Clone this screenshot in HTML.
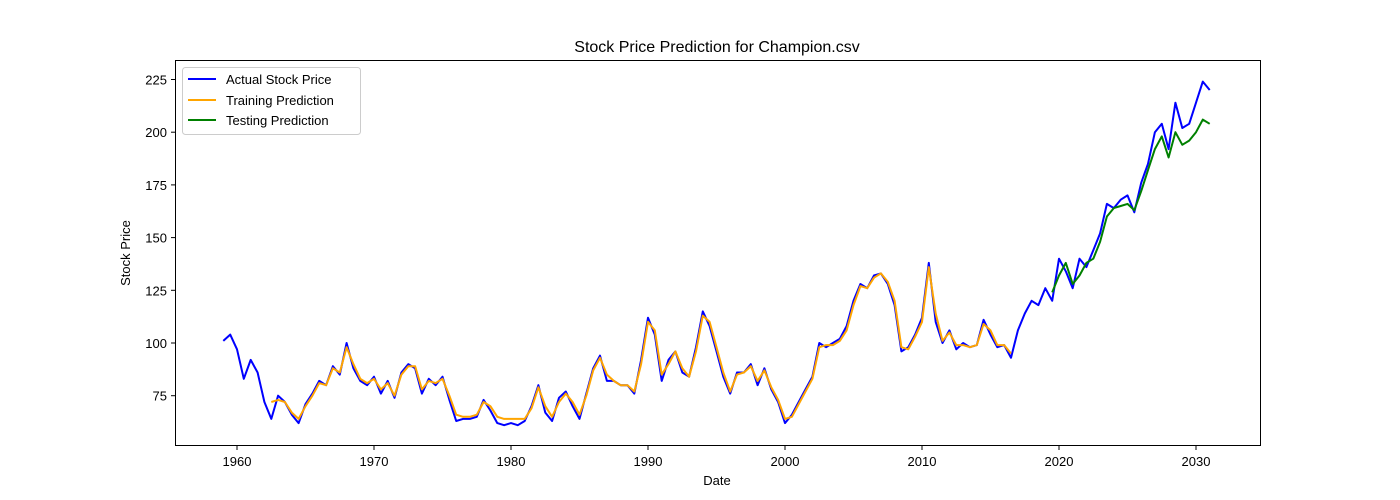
<!DOCTYPE html>
<html><head><meta charset="utf-8"><style>
body{margin:0;background:#fff;}
svg{display:block;font-family:"Liberation Sans","DejaVu Sans",sans-serif;}
</style></head><body>
<svg id="chart" width="1400" height="500">
<rect x="0" y="0" width="1400" height="500" fill="#fff"/>
<text x="717" y="52" font-size="16" text-anchor="middle">Stock Price Prediction for Champion.csv</text>
<text x="717" y="485" font-size="13" text-anchor="middle">Date</text>
<text x="130" y="253" font-size="13" text-anchor="middle" transform="rotate(-90 130 253)">Stock Price</text>
<g id="ticks"></g>
<g id="series"></g>
<rect x="175.5" y="60.5" width="1085" height="385" fill="none" stroke="#000" stroke-width="1"/>
<g>
<rect x="182.5" y="67.5" width="178" height="67" rx="3" fill="#fff" stroke="#ccc"/>
<line x1="188" y1="79" x2="216" y2="79" stroke="#0000ff" stroke-width="2"/>
<text x="226" y="84" font-size="13">Actual Stock Price</text>
<line x1="188" y1="100" x2="216" y2="100" stroke="#ffa500" stroke-width="2"/>
<text x="226" y="105" font-size="13">Training Prediction</text>
<line x1="188" y1="120" x2="216" y2="120" stroke="#008000" stroke-width="2"/>
<text x="226" y="125" font-size="13">Testing Prediction</text>
</g>
</svg>
<script>
const xTicks=[1960,1970,1980,1990,2000,2010,2020,2030];
const yTicks=[75,100,125,150,175,200,225];
const actualStart=1959.0;
const actualValues=[101,104, 97,83, 92,86, 72,64, 75,72, 66,62, 71,76, 82,80, 89,85, 100,88,
 82,80, 84,76, 82,74, 86,90, 88,76, 83,80, 84,73, 63,64, 64,65, 73,68,
 62,61, 62,61, 63,70, 80,67, 63,74, 77,70, 64,76, 88,94, 82,82, 80,80,
 76,92, 112,104, 82,92, 96,86, 84,98, 115,108, 96,84, 76,86, 86,90, 80,88,
 78,72, 62,66, 72,78, 84,100, 98,100, 102,108, 120,128, 126,132, 133,128, 118,96,
 98,104, 112,138, 110,100, 106,97, 100,98, 99,111, 104,98, 99,93, 106,114, 120,118,
 126,120, 140,134, 126,140, 136,144, 152,166, 164,168, 170,162, 176,185, 200,204, 192,214,
 202,204, 214,224, 220];
const trainStart=1962.5;
const trainValues=[72, 73,72, 67,64, 70,75, 81,80, 88,86, 98,90,
 83,81, 83,78, 81,75, 85,89, 89,78, 82,81, 83,75, 66,65, 65,66, 72,70,
 65,64, 64,64, 64,69, 79,70, 65,72, 76,72, 66,75, 87,93, 85,82, 80,80,
 77,90, 110,106, 85,90, 96,88, 84,96, 113,110, 98,86, 77,85, 86,89, 82,87,
 79,73, 64,65, 71,77, 83,98, 99,99, 101,106, 118,127, 126,131, 133,129, 120,98,
 97,103, 110,136, 114,101, 105,99, 99,98, 99,109, 106,99, 99,95];
const testStart=2019.5;
const testValues=[124, 132,138, 128,132, 138,140, 148,160, 164,165, 166,163, 172,182, 192,198, 188,200, 194,196, 200,206, 204];
const X=v=>237+(v-1960)*13.7;
const Y=v=>343-(v-100)*2.108;
const NS='http://www.w3.org/2000/svg';
const tg=document.getElementById('ticks');
xTicks.forEach(t=>{
 const l=document.createElementNS(NS,'line');
 l.setAttribute('x1',X(t));l.setAttribute('x2',X(t));l.setAttribute('y1',445.5);l.setAttribute('y2',450);l.setAttribute('stroke','#000');
 
 
 tg.appendChild(l);
 const tx=document.createElementNS(NS,'text');
 tx.setAttribute('x',X(t));tx.setAttribute('y',466);tx.setAttribute('font-size','13');tx.setAttribute('text-anchor','middle');
 tx.textContent=t;
 
 
 tg.appendChild(tx);
});
yTicks.forEach(t=>{
 const l=document.createElementNS(NS,'line');
 l.setAttribute('x1',171);l.setAttribute('x2',175.5);l.setAttribute('y1',Y(t));l.setAttribute('y2',Y(t));l.setAttribute('stroke','#000');
 
 
 tg.appendChild(l);
 const tx=document.createElementNS(NS,'text');
 tx.setAttribute('x',167);tx.setAttribute('y',Y(t)+5);tx.setAttribute('font-size','13');tx.setAttribute('text-anchor','end');
 tx.textContent=t;
 
 
 tg.appendChild(tx);
});
const sg=document.getElementById('series');
function line(start,vals,color,name){
 const p=document.createElementNS(NS,'polyline');
 p.setAttribute('points',vals.map((v,i)=>X(start+i*0.5).toFixed(1)+','+Y(v).toFixed(1)).join(' '));
 p.setAttribute('fill','none');p.setAttribute('stroke',color);p.setAttribute('stroke-width','2');p.setAttribute('stroke-linejoin','round');
 
 
 sg.appendChild(p);
}
line(actualStart,actualValues,'#0000ff','actual-price-line');
line(trainStart,trainValues,'#ffa500','training-prediction-line');
line(testStart,testValues,'#008000','testing-prediction-line');
</script>
</body></html>
